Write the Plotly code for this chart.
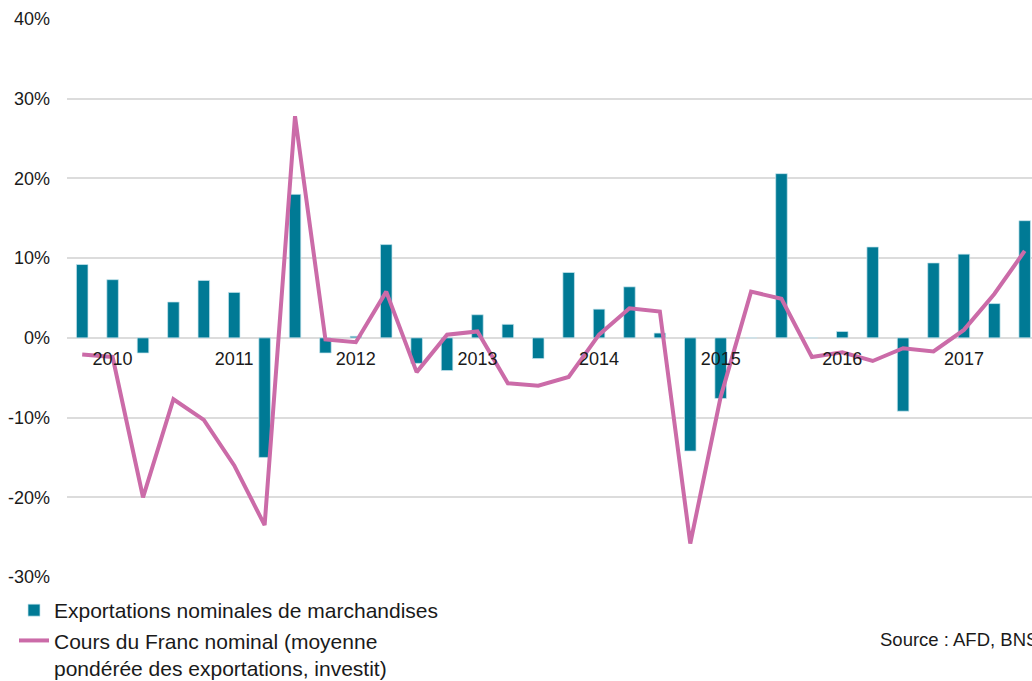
import plotly.graph_objects as go

years = [2010, 2011, 2012, 2013, 2014, 2015, 2016, 2017]
quarters = [f"{y}-T{q}" for y in years for q in range(1, 5)]

exports = [9.2, 7.3, -1.9, 4.5, 7.2, 5.7, -15.0, 18.0,
           -1.9, 0.2, 11.7, -3.2, -4.1, 2.9, 1.7, -2.6,
           8.2, 3.6, 6.4, 0.6, -14.2, -7.6, 0.0, 20.6,
           0.0, 0.8, 11.4, -9.2, 9.4, 10.5, 4.3, 14.7]

franc = [-2.1, -2.4, -20.0, -7.7, -10.3, -16.0, -23.5, 27.8,
         -0.2, -0.55, 5.8, -4.3, 0.4, 0.8, -5.7, -6.0,
         -4.9, 0.4, 3.7, 3.3, -25.8, -7.4, 5.8, 4.9,
         -2.4, -1.8, -2.9, -1.3, -1.7, 1.0, 5.5, 10.9]

year_tick_vals = [f"{y}-T2" for y in years]
year_tick_text = [str(y) for y in years]

y_tick_vals = [-30, -20, -10, 0, 10, 20, 30, 40]
y_tick_text = ["-30%", "-20%", "-10%", "0%", "10%", "20%", "30%", "40%"]

bar_name = "Exportations nominales de marchandises"
line_name = "Cours du Franc nominal (moyenne<br>pondérée des exportations, investit)"
source_text = "Source : AFD, BNS"

BAR_COLOR = "#007A95"
LINE_COLOR = "#CB6BA8"
FONT = "Liberation Sans, Arial, sans-serif"

fig = go.Figure()
fig.add_trace(go.Bar(
    x=quarters, y=exports, name=bar_name,
    marker=dict(color=BAR_COLOR, line=dict(color="rgba(200,230,238,0.9)", width=0.8)),
    width=0.38,
))
fig.add_trace(go.Scatter(
    x=quarters, y=franc, name=line_name, mode="lines",
    line=dict(color=LINE_COLOR, width=4),
))

fig.update_layout(
    width=1032, height=681,
    margin=dict(l=67, r=0, t=19, b=104, autoexpand=False),
    paper_bgcolor="white", plot_bgcolor="white",
    font=dict(family=FONT, size=18, color="#1a1a1a"),
    showlegend=True,
    legend=dict(
        xref="container", yref="container",
        x=14/1032, y=1 - 590/681, xanchor="left", yanchor="top",
        font=dict(size=21, color="#1a1a1a"),
        valign="top", bgcolor="rgba(0,0,0,0)",
        traceorder="normal", tracegroupgap=0,
    ),
    xaxis=dict(
        type="category", range=[-0.5, 31.24],
        tickvals=year_tick_vals, ticktext=year_tick_text,
        anchor="free", position=3/7,
        showgrid=False, showline=False, zeroline=False, ticks="",
        ticklabelstandoff=8,
        tickfont=dict(size=18, color="#1a1a1a"),
    ),
    yaxis=dict(
        range=[-30, 40], tickvals=y_tick_vals, ticktext=y_tick_text,
        showgrid=True, gridcolor="#dcdcdc", gridwidth=1.5,
        zeroline=False, showline=False, ticks="",
        ticklabelstandoff=16,
        tickfont=dict(size=18, color="#1a1a1a"),
    ),
    annotations=[dict(
        text=source_text, xref="paper", yref="paper",
        x=(878 - 67) / 965, y=(577 - 639) / 558,
        xanchor="left", yanchor="middle", showarrow=False,
        font=dict(size=18.5, color="#1a1a1a"),
    )],
)

fig.write_html("out.html")
